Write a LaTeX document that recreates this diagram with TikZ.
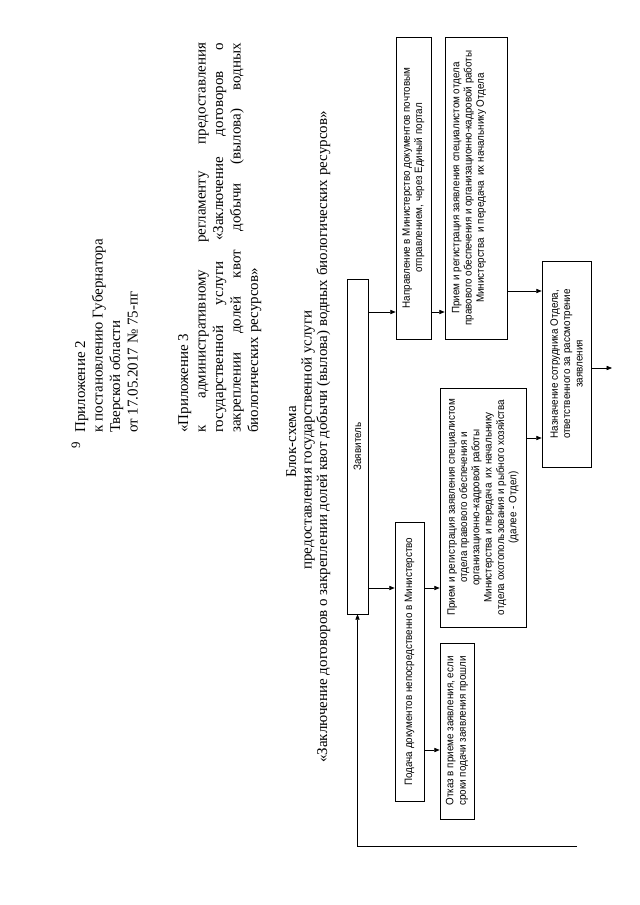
\documentclass[tikz,border=0pt]{standalone}
\usepackage{fontspec}
\setmainfont{Liberation Serif}
\newfontfamily\boxfont[FakeStretch=0.92]{Liberation Sans}
\usetikzlibrary{arrows.meta,positioning}
\newlength\pxl
\setlength\pxl{0.328125mm}

\begin{document}
\begin{tikzpicture}[
    x=0.328125mm, y=-0.328125mm,
    hdr/.style={rotate=90,anchor=base west,inner sep=0pt,
      font=\fontsize{14}{16.4}\selectfont},
    ttl/.style={rotate=90,anchor=base,inner sep=0pt,
      font=\fontsize{14}{16.4}\selectfont},
    block/.style={draw,rotate=90,align=center,inner sep=1pt,line width=0.6pt,
      font=\boxfont\fontsize{10}{11.5}\selectfont},
    arrow/.style={-{Triangle[length=5pt,width=4pt]},line width=0.6pt}
  ]
  \useasboundingbox (0,0) rectangle (640,905);
  \fill[white] (0,0) rectangle (640,905);

  % page number and header
  \node[ttl,font=\fontsize{12}{14}\selectfont] (pnum) at (80,445) {9};
  \node[hdr] (appA) at (85,433) {Приложение 2};
  \node[hdr] (appB) at (102.5,433) {к постановлению Губернатора};
  \node[hdr] (appC) at (120,433) {Тверской области};
  \node[hdr] (appD) at (137.5,433) {от 17.05.2017 № 75-пг};

  \node[hdr] (regA) at (188,433) {«Приложение 3};
  \node[hdr] (regB) at (205.5,433)
    {\makebox[390\pxl][s]{к административному регламенту предоставления}};
  \node[hdr] (regC) at (223,433)
    {\makebox[390\pxl][s]{государственной услуги «Заключение договоров о}};
  \node[hdr] (regD) at (240.5,433)
    {\makebox[390\pxl][s]{закреплении долей квот добычи (вылова) водных}};
  \node[hdr] (regE) at (258,433) {биологических ресурсов»};

  % title
  \node[ttl] (ttlA) at (296,442) {Блок-схема};
  \node[ttl] (ttlB) at (311.5,440) {предоставления государственной услуги};
  \node[ttl] (ttlC) at (327,437)
    {«Заключение договоров о закреплении долей квот добычи (вылова) водных биологических ресурсов»};

  % blocks
  \node[block,minimum width=335*\pxl,minimum height=21*\pxl] (zayav) at (357.5,446.5) {Заявитель};
  \node[block,minimum width=302*\pxl,minimum height=35*\pxl] (napr) at (413.5,188)
    {Направление в Министерство документов почтовым\\отправлением, через Единый портал};
  \node[block,minimum width=302*\pxl,minimum height=62*\pxl] (priemA) at (476,188)
    {Прием и регистрация заявления специалистом отдела\\
     правового обеспечения и организационно-кадровой работы\\
     Министерства\ \ и передача\ \ их начальнику Отдела\\ \strut};
  \node[block,minimum width=279*\pxl,minimum height=29*\pxl] (podacha) at (409.5,661.5)
    {Подача документов непосредственно в Министерство};
  \node[block,minimum width=239*\pxl,minimum height=86*\pxl] (priemB) at (483,507.5)
    {Прием и регистрация заявления специалистом\\
     отдела правового обеспечения и\\
     организационно-кадровой работы\\
     Министерства и передача\ \ их начальнику\\
     отдела охотопользования и рыбного хозяйства\\
     (далее - Отдел)};
  \node[block,minimum width=176*\pxl,minimum height=34*\pxl] (otkaz) at (457,731)
    {Отказ в приеме заявления, если\\сроки подачи заявления прошли};
  \node[block,minimum width=206*\pxl,minimum height=49*\pxl] (naznach) at (566.5,364)
    {Назначение сотрудника Отдела,\\ответственного за рассмотрение\\заявления};

  % rows of the connectors
  \coordinate (rowA) at (0,312);
  \coordinate (rowB) at (0,291);
  \coordinate (rowC) at (0,588);
  \coordinate (rowD) at (0,750);
  \coordinate (rowE) at (0,438);
  \coordinate (nextpg) at (612,368);
  \coordinate (loopend) at (577,846);

  % connectors
  \draw[arrow] (zayav.south |- rowA) -- (napr.north |- rowA);
  \draw[arrow] (napr.south |- rowA) -- (priemA.north |- rowA);
  \draw[arrow] (priemA.south |- rowB) -- (naznach.north |- rowB);
  \draw[arrow] (zayav.south |- rowC) -- (podacha.north |- rowC);
  \draw[arrow] (podacha.south |- rowC) -- (priemB.north |- rowC);
  \draw[arrow] (podacha.south |- rowD) -- (otkaz.north |- rowD);
  \draw[arrow] (priemB.south |- rowE) -- (naznach.north |- rowE);
  \draw[arrow] (naznach.south |- nextpg) -- (nextpg);
  \draw[arrow] (loopend) -| (zayav.west);

\end{tikzpicture}
\end{document}
